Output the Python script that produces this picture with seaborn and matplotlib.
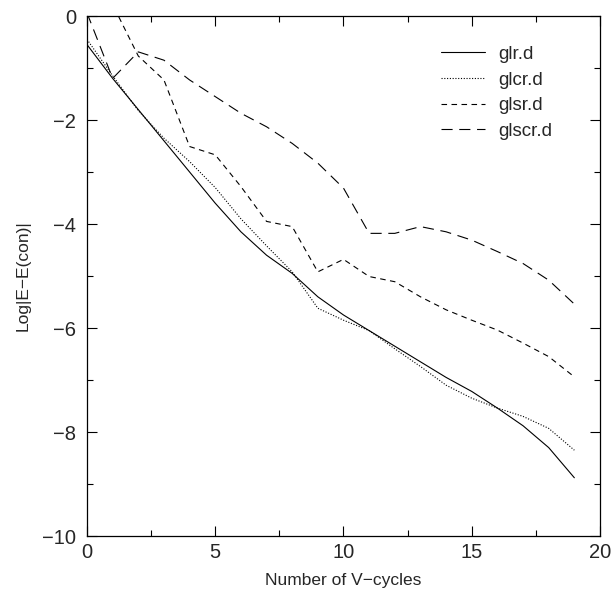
import numpy as np
import pandas as pd
import seaborn as sns
import matplotlib
matplotlib.use("Agg")
from matplotlib import pyplot as plt
from matplotlib.ticker import MultipleLocator

# V-cycle number and log error per solver
cycles = list(range(20))
glr = [-0.55, -1.2, -1.8, -2.4, -3.0, -3.6, -4.15, -4.6, -4.95, -5.4,
       -5.75, -6.05, -6.35, -6.65, -6.95, -7.22, -7.54, -7.88, -8.3, -8.88]
glcr = [-0.45, -1.15, -1.82, -2.35, -2.8, -3.3, -3.9, -4.42, -4.92, -5.62,
        -5.85, -6.05, -6.4, -6.74, -7.1, -7.35, -7.54, -7.7, -7.93, -8.35]
glsr = [1.2, 0.22, -0.77, -1.23, -2.51, -2.67, -3.28, -3.95, -4.05, -4.92,
        -4.68, -5.01, -5.11, -5.4, -5.65, -5.85, -6.04, -6.29, -6.55, -6.94]
glscr = [0.06, -1.2, -0.69, -0.85, -1.23, -1.55, -1.87, -2.13, -2.45, -2.83,
         -3.31, -4.18, -4.18, -4.05, -4.15, -4.31, -4.53, -4.76, -5.08, -5.54]
series = ["glr.d", "glcr.d", "glsr.d", "glscr.d"]

df = pd.concat([
    pd.DataFrame({"cycle": cycles, "err": vals, "run": name})
    for name, vals in zip(series, [glr, glcr, glsr, glscr])
])

sns.set_theme(style="ticks")
plt.rcParams["font.family"] = ["Liberation Sans", "DejaVu Sans"]

fig = plt.figure(figsize=(6.13, 5.95), dpi=100)
ax = fig.add_axes([87 / 613, 59 / 595, 513 / 613, 520 / 595])

dashes = {"glr.d": "", "glcr.d": (1, 1.5), "glsr.d": (5, 4), "glscr.d": (10, 6)}
sns.lineplot(data=df, x="cycle", y="err", style="run", dashes=dashes,
             color="black", linewidth=0.8, ax=ax)

ax.set_xlim(0, 20)
ax.set_ylim(-10, 0)
ax.xaxis.set_major_locator(MultipleLocator(5))
ax.xaxis.set_minor_locator(MultipleLocator(2.5))
ax.yaxis.set_major_locator(MultipleLocator(2))
ax.yaxis.set_minor_locator(MultipleLocator(1))
ax.tick_params(which="both", direction="in", top=True, right=True,
               labelsize=14.5, color="black", width=0.8)
ax.tick_params(axis="y", which="major", length=7, pad=8)
ax.tick_params(axis="x", which="major", length=7, pad=5)
ax.tick_params(which="minor", length=4)
for s in ax.spines.values():
    s.set_linewidth(0.9)
    s.set_color("black")

ax.set_xlabel("Number of V\u2212cycles", fontsize=12.5, labelpad=8)
ax.set_ylabel("Log|E\u2212E(con)|", fontsize=12.5, labelpad=8)

leg = ax.legend(loc="upper right", frameon=False, fontsize=13.5,
                handlelength=2.35, handletextpad=0.7, labelspacing=0.45,
                bbox_to_anchor=(0.94, 0.975))
for h in leg.get_lines():
    h.set_linewidth(0.8)

fig.savefig("out.png", dpi=100)
